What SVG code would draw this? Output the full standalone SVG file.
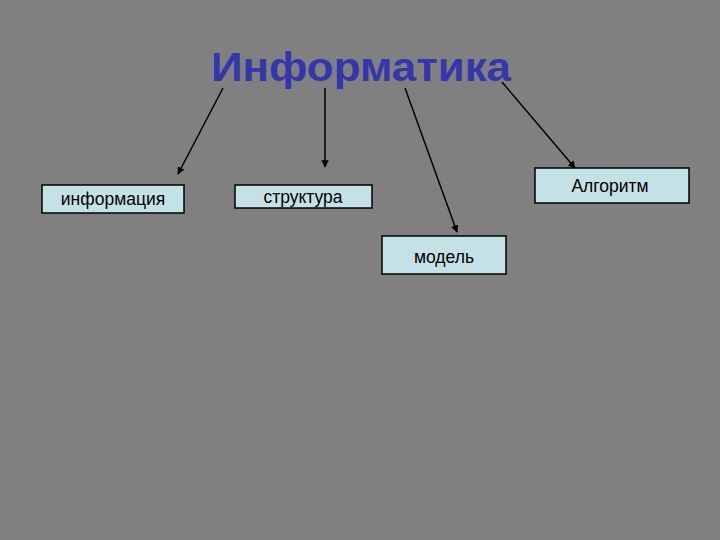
<svg xmlns="http://www.w3.org/2000/svg" width="720" height="540" viewBox="0 0 720 540">
<style>
.box{fill:#c4e2e6;stroke:#000;stroke-width:1.5}
.lbl{font-family:"Liberation Sans",Arial,sans-serif;font-size:17.5px;fill:#000;text-anchor:middle}
.con{stroke:#000;stroke-width:1.5;fill:none;marker-end:url(#ah)}
</style>
<defs>
<marker id="ah" viewBox="0 0 10 10" refX="9" refY="5" markerWidth="5" markerHeight="5" orient="auto" markerUnits="strokeWidth">
<path d="M0,0 L10,5 L0,10 z" fill="#000"/>
</marker>
</defs>
<rect width="720" height="540" fill="#808080"/>
<g id="title">
<text x="211" y="81" font-family="'Liberation Sans',Arial,sans-serif" font-weight="bold" font-size="40" fill="#3636ac" textLength="300" lengthAdjust="spacingAndGlyphs">Информатика</text>
</g>
<g id="connectors">
<line class="con" x1="223" y1="88" x2="178" y2="174"/>
<line class="con" x1="325" y1="88" x2="325" y2="167"/>
<line class="con" x1="405" y1="88" x2="457" y2="232"/>
<line class="con" x1="502" y1="82" x2="575" y2="168"/>
</g>
<g id="node-informatsiya">
<rect class="box" x="42" y="185" width="142" height="28"/>
<text class="lbl" x="113" y="205">информация</text>
</g>
<g id="node-struktura">
<rect class="box" x="235" y="185" width="137" height="23"/>
<text class="lbl" x="303" y="203">структура</text>
</g>
<g id="node-model">
<rect class="box" x="382" y="236" width="124" height="38"/>
<text class="lbl" x="444" y="263">модель</text>
</g>
<g id="node-algoritm">
<rect class="box" x="535" y="168" width="154" height="35"/>
<text class="lbl" x="610" y="192">Алгоритм</text>
</g>
</svg>
